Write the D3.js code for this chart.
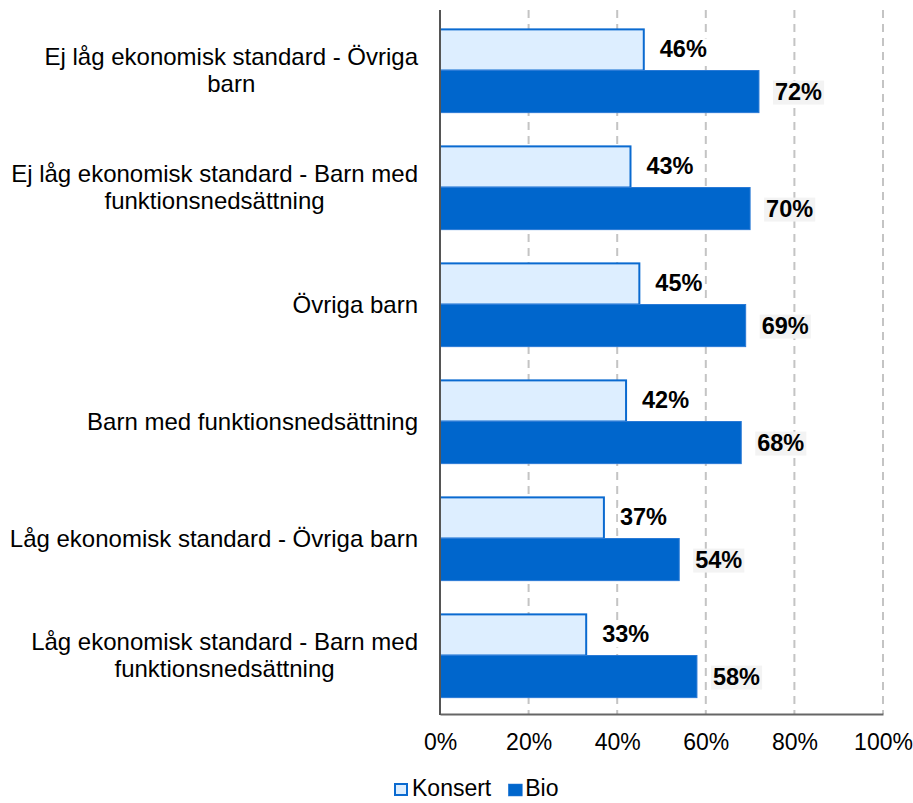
<!DOCTYPE html>
<html>
<head>
<meta charset="utf-8">
<script src="https://cdn.jsdelivr.net/npm/d3@7"></script>
<style>
  html, body { margin: 0; padding: 0; background: #fff; }
  svg { display: block; font-family: Arial, "Liberation Sans", sans-serif; }
</style>
</head>
<body>
<svg id="chart" width="913" height="803"></svg>
<script>
const categories = [
  "Ej låg ekonomisk standard - Övriga barn",
  "Ej låg ekonomisk standard - Barn med funktionsnedsättning",
  "Övriga barn",
  "Barn med funktionsnedsättning",
  "Låg ekonomisk standard - Övriga barn",
  "Låg ekonomisk standard - Barn med funktionsnedsättning"
];
const seriesNames = ["Konsert", "Bio"];
const konsert = [46, 43, 45, 42, 37, 33];
const bio = [72, 70, 69, 68, 54, 58];
const tickValues = [0, 20, 40, 60, 80, 100];

const svg = d3.select("#chart");
const x0 = 440, x1 = 883, yTop = 12, yBot = 714;

const x = d3.scaleLinear().domain([0, 100]).range([x0, x1]);
const y = d3.scaleBand().domain(categories).range([yTop, yBot]).paddingInner(0.28).paddingOuter(0.14);
const ys = d3.scaleBand().domain(seriesNames).range([0, y.bandwidth()]);

const colors = { Konsert: { fill: "#ddeeff", stroke: "#0a6ad0" }, Bio: { fill: "#0066cc", stroke: "#2a7ad6" } };

// gridlines
svg.append("g").selectAll("line").data(tickValues.filter(d => d > 0)).join("line")
  .attr("x1", d => x(d)).attr("x2", d => x(d))
  .attr("y1", 10).attr("y2", yBot)
  .attr("stroke", "#c4c4c4").attr("stroke-width", 2).attr("stroke-dasharray", "8,6");

// x axis
const xAxis = svg.append("g").attr("transform", `translate(0,${yBot})`)
  .call(d3.axisBottom(x).tickValues(tickValues).tickFormat(d => d + "%").tickSize(0).tickPadding(20));
xAxis.select(".domain").attr("stroke", "#666").attr("stroke-width", 2);
xAxis.selectAll("text").attr("font-size", "23px").attr("fill", "#000")
  .attr("font-family", "Arial, 'Liberation Sans', sans-serif");

// data rows
const rows = categories.map((c, i) => ({ cat: c, Konsert: konsert[i], Bio: bio[i] }));

const groups = svg.append("g").selectAll("g").data(rows).join("g")
  .attr("transform", d => `translate(0,${y(d.cat)})`);

seriesNames.forEach(s => {
  groups.append("rect")
    .attr("x", x(0))
    .attr("y", ys(s) + (s === "Konsert" ? 1 : 0))
    .attr("width", d => x(d[s]) - x(0))
    .attr("height", ys.bandwidth() - (s === "Konsert" ? 1 : 0))
    .attr("fill", colors[s].fill)
    .attr("stroke", colors[s].stroke)
    .attr("stroke-width", s === "Konsert" ? 2 : 1);
});

// value labels
seriesNames.forEach(s => {
  const lg = groups.append("g");
  const t = lg.append("text")
    .attr("x", d => x(d[s]) + 16)
    .attr("y", ys(s) + ys.bandwidth() / 2 + 8)
    .attr("font-size", "23.5px").attr("font-weight", "bold").attr("fill", "#000")
    .text(d => d[s] + "%");
  t.each(function () {
    const bb = this.getBBox();
    d3.select(this.parentNode).insert("rect", "text")
      .attr("x", bb.x - 2).attr("y", bb.y + 2)
      .attr("width", bb.width + 4).attr("height", bb.height - 2)
      .attr("fill", s === "Bio" ? "#f3f3f3" : "#ffffff");
  });
});

// y axis line
svg.append("line").attr("x1", x0).attr("x2", x0).attr("y1", 10).attr("y2", yBot + 1)
  .attr("stroke", "#555").attr("stroke-width", 2);

// category labels with wrapping
const labelRight = 418, maxW = 415, lineH = 27, catFont = "24px";
rows.forEach(d => {
  const g = svg.append("g");
  const tmp = g.append("text").attr("font-size", catFont);
  const words = d.cat.split(" ");
  const lines = [];
  let cur = [];
  words.forEach(w => {
    const test = cur.concat([w]).join(" ");
    tmp.text(test);
    if (tmp.node().getComputedTextLength() > maxW && cur.length) {
      lines.push(cur.join(" "));
      cur = [w];
    } else cur.push(w);
  });
  if (cur.length) lines.push(cur.join(" "));
  let wMax = 0;
  lines.forEach(l => { tmp.text(l); wMax = Math.max(wMax, tmp.node().getComputedTextLength()); });
  tmp.remove();
  const cx = labelRight - wMax / 2;
  const cy = y(d.cat) + y.bandwidth() / 2;
  lines.forEach((l, i) => {
    g.append("text")
      .attr("x", cx)
      .attr("y", cy + (i - (lines.length - 1) / 2) * lineH + 8)
      .attr("text-anchor", "middle")
      .attr("font-size", catFont).attr("fill", "#000")
      .text(l);
  });
});

// legend
const legend = svg.append("g").attr("transform", "translate(394,783)");
let lx = 0;
seriesNames.forEach(s => {
  const item = legend.append("g").attr("transform", `translate(${lx},0)`);
  item.append("rect").attr("x", 1).attr("y", 1).attr("width", s === "Konsert" ? 12 : 14).attr("height", s === "Konsert" ? 11 : 12)
    .attr("fill", colors[s].fill).attr("stroke", colors[s].stroke).attr("stroke-width", s === "Konsert" ? 2 : 0.5);
  const t = item.append("text").attr("x", 18).attr("y", 13).attr("font-size", "23px").attr("fill", "#000").text(s);
  lx += 18 + t.node().getComputedTextLength() + 16;
});
</script>
</body>
</html>
